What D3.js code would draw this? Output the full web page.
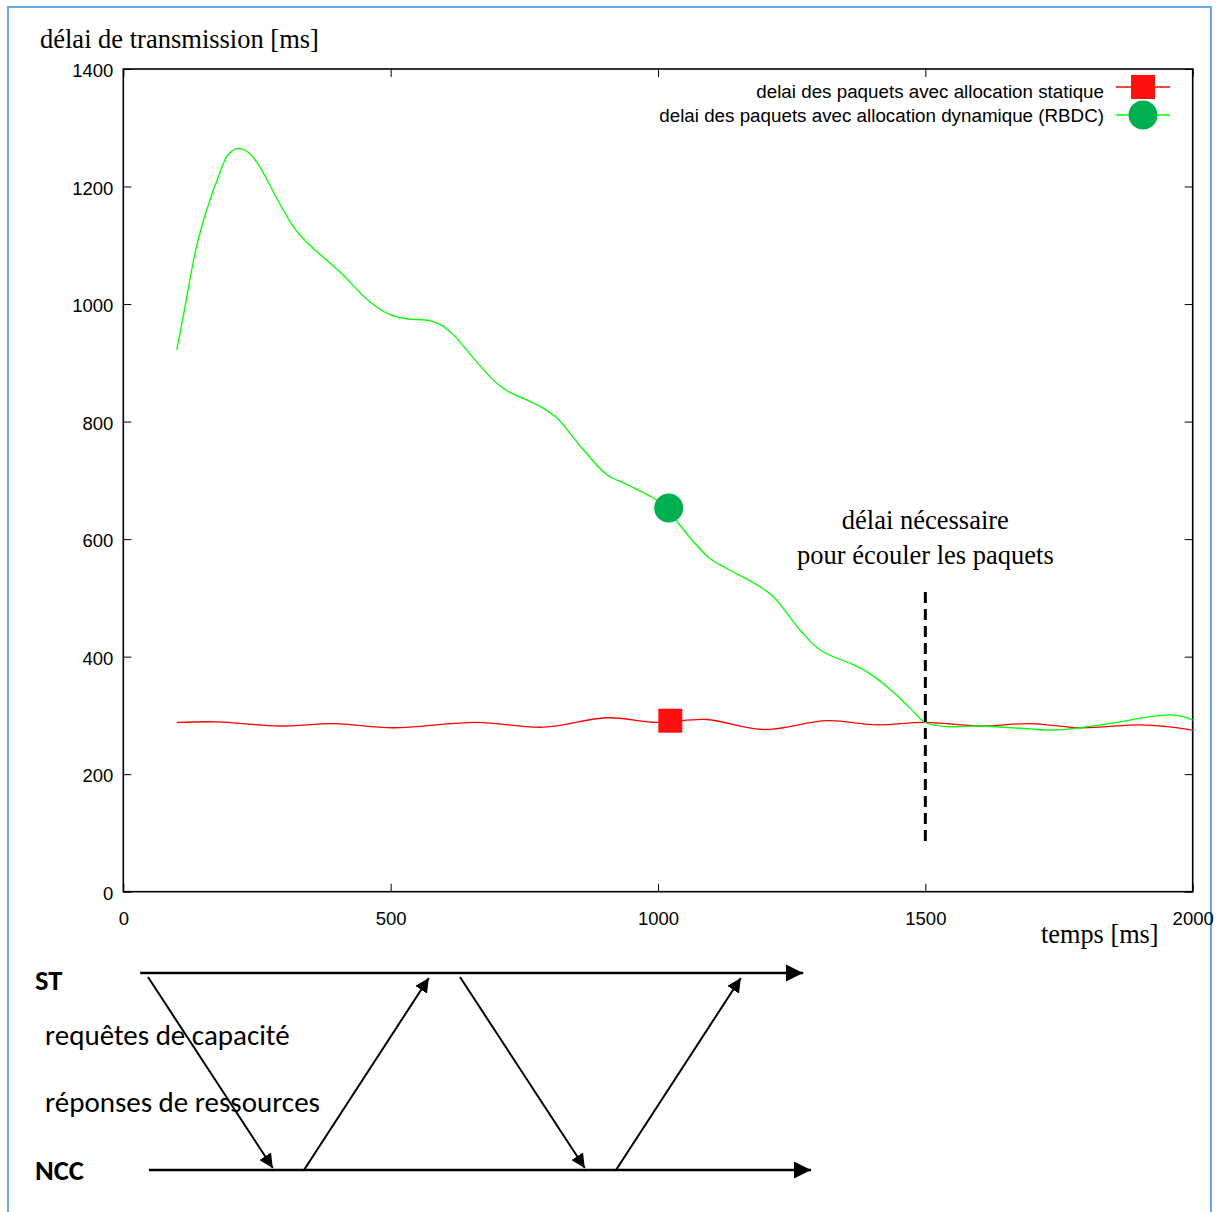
<!DOCTYPE html>
<html>
<head>
<meta charset="utf-8">
<script src="https://cdn.jsdelivr.net/npm/d3@7"></script>
<style>
body { margin: 0; background: #fff; }
svg { display: block; }
</style>
</head>
<body>
<div id="chart"></div>
<script>
var w = 1220, h = 1212;

// time [ms] and delay [ms]
var static_t = [100, 175, 293, 393, 505, 661, 786, 904, 998, 1091, 1197, 1316, 1409, 1500, 1602, 1696, 1789, 1901, 1952, 2000];
var static_v = [288, 289, 282, 286, 279, 288, 280, 296, 288, 293, 276, 291, 284, 288, 282, 286, 279, 284, 281, 275];

var dynamic_t = [100, 112, 137, 156, 178, 196, 215, 234, 253, 290, 312, 330, 355, 405, 461, 499, 530, 573, 593, 617,
    655, 695, 717, 779, 811, 855, 904, 942, 991, 1019, 1038, 1097, 1129, 1191, 1216, 1266, 1304, 1366, 1391, 1428,
    1472, 1500, 1540, 1602, 1696, 1739, 1789, 1858, 1920, 1957, 1982, 2000];
var dynamic_v = [922, 979, 1098, 1160, 1217, 1254, 1265, 1258, 1237, 1175, 1140, 1118, 1095, 1055, 1004, 982, 975, 972, 965, 948,
    908, 868, 853, 826, 806, 758, 710, 693, 670, 652, 627, 567, 550, 519, 502, 445, 411, 386, 374, 349,
    312, 288, 281, 282, 277, 275, 279, 288, 298, 301, 298, 292];

var static_marker = {t: 1023, v: 291};
var dynamic_marker = {t: 1020, v: 653};

var x_ticks = [0, 500, 1000, 1500, 2000];
var y_ticks = [0, 200, 400, 600, 800, 1000, 1200, 1400];
var legend_labels = ["delai des paquets avec allocation statique",
                     "delai des paquets avec allocation dynamique (RBDC)"];
var threshold_t = 1500;
var threshold_v = [80, 510];
var threshold_text = ["délai nécessaire", "pour écouler les paquets"];

// message sequence below the chart (time in diagram units)
var lanes = ["ST", "NCC"];
var lane_span = {ST: [-0.25, 21], NCC: [0.03, 21.25]};
var messages = [
    {from: "ST", t0: 0, to: "NCC", t1: 4},
    {from: "NCC", t0: 5, to: "ST", t1: 9},
    {from: "ST", t0: 10, to: "NCC", t1: 14},
    {from: "NCC", t0: 15, to: "ST", t1: 19}
];
var msg_labels = ["requêtes de capacité", "réponses de ressources"];

var svg = d3.select("#chart")
    .append("svg")
    .attr("width", w)
    .attr("height", h);

svg.append("defs").append("marker")
    .attr("id", "arrow")
    .attr("viewBox", "0 0 10 10")
    .attr("refX", 10).attr("refY", 5)
    .attr("markerWidth", 7).attr("markerHeight", 7)
    .attr("markerUnits", "strokeWidth")
    .attr("orient", "auto")
    .append("path")
    .attr("d", "M0,0 L10,5 L0,10 z")
    .attr("fill", "#000");

svg.append("rect")
    .attr("x", 8).attr("y", 7)
    .attr("width", 1203).attr("height", 1220)
    .attr("fill", "#fff")
    .attr("stroke", "#6ea6e6")
    .attr("stroke-width", 2);

var x = d3.scaleLinear().domain([0, 2000]).range([123.3, 1192.7]);
var y = d3.scaleLinear().domain([0, 1400]).range([891.7, 69]);

function tidy(g) {
    g.select(".domain").remove();
    g.selectAll(".tick line").attr("stroke", "#000").attr("stroke-width", 1);
    g.selectAll(".tick text")
        .attr("font-family", "'Liberation Sans', Arial, sans-serif")
        .attr("font-size", "18.5px")
        .attr("fill", "#000");
}

svg.append("g")
    .attr("transform", "translate(0," + y(0) + ")")
    .call(d3.axisBottom(x).tickValues(x_ticks).tickSize(-8).tickPadding(20).tickFormat(d3.format("d")))
    .call(tidy);
svg.append("g")
    .attr("transform", "translate(" + x(0) + ",0)")
    .call(d3.axisLeft(y).tickValues(y_ticks).tickSize(-8).tickPadding(10).tickFormat(d3.format("d")))
    .call(tidy)
    .selectAll(".tick text").attr("dy", "0.42em");
svg.append("g")
    .attr("transform", "translate(0," + y(1400) + ")")
    .call(d3.axisTop(x).tickValues(x_ticks).tickSize(-8).tickFormat(""))
    .call(tidy);
svg.append("g")
    .attr("transform", "translate(" + x(2000) + ",0)")
    .call(d3.axisRight(y).tickValues(y_ticks).tickSize(-8).tickFormat(""))
    .call(tidy);

svg.append("rect")
    .attr("x", x(0)).attr("y", y(1400))
    .attr("width", x(2000) - x(0)).attr("height", y(0) - y(1400))
    .attr("fill", "none")
    .attr("stroke", "#000")
    .attr("stroke-width", 1.6);

svg.append("text")
    .attr("x", 40).attr("y", 48)
    .attr("font-family", "'Liberation Serif', 'Times New Roman', serif")
    .attr("font-size", "26.5px")
    .text("délai de transmission [ms]");
svg.append("text")
    .attr("x", 1041).attr("y", 943)
    .attr("font-family", "'Liberation Serif', 'Times New Roman', serif")
    .attr("font-size", "26.3px")
    .text("temps [ms]");

var line = d3.line()
    .x(function(d) { return x(d.t); })
    .y(function(d) { return y(d.v); })
    .curve(d3.curveCatmullRom);

var static_pts = static_t.map(function(t, i) { return {t: t, v: static_v[i]}; });
var dynamic_pts = dynamic_t.map(function(t, i) { return {t: t, v: dynamic_v[i]}; });

svg.append("path")
    .attr("d", line(static_pts))
    .attr("fill", "none")
    .attr("stroke", "#ff0000")
    .attr("stroke-width", 1.3);
svg.append("path")
    .attr("d", line(dynamic_pts))
    .attr("fill", "none")
    .attr("stroke", "#00ff00")
    .attr("stroke-width", 1.3);

// threshold annotation
svg.append("line")
    .attr("x1", x(threshold_t)).attr("x2", x(threshold_t))
    .attr("y1", y(threshold_v[1])).attr("y2", y(threshold_v[0]))
    .attr("stroke", "#000")
    .attr("stroke-width", 3)
    .attr("stroke-dasharray", "11,6");
svg.selectAll(".annot")
    .data(threshold_text)
    .enter()
    .append("text")
    .attr("class", "annot")
    .attr("x", x(threshold_t))
    .attr("y", function(d, i) { return 529 + i * 35; })
    .attr("text-anchor", "middle")
    .attr("font-family", "'Liberation Serif', 'Times New Roman', serif")
    .attr("font-size", "26.5px")
    .text(function(d) { return d; });

// markers
svg.append("rect")
    .attr("x", x(static_marker.t) - 12).attr("y", y(static_marker.v) - 12)
    .attr("width", 24).attr("height", 24)
    .attr("fill", "#fe1010");
svg.append("circle")
    .attr("cx", x(dynamic_marker.t)).attr("cy", y(dynamic_marker.v))
    .attr("r", 14.5)
    .attr("fill", "#00b050");

// legend
var legend = svg.selectAll(".legend")
    .data(legend_labels)
    .enter()
    .append("g")
    .attr("class", "legend")
    .attr("transform", function(d, i) { return "translate(0," + (87 + i * 28) + ")"; });
legend.append("text")
    .attr("x", 1104)
    .attr("y", function(d, i) { return 4 - i * 4; })
    .attr("dy", "0.35em")
    .attr("text-anchor", "end")
    .attr("font-family", "'Liberation Sans', Arial, sans-serif")
    .attr("font-size", "18.8px")
    .text(function(d) { return d; });
legend.append("line")
    .attr("x1", 1116).attr("x2", 1170)
    .attr("stroke", function(d, i) { return i == 0 ? "#ff0000" : "#00ff00"; })
    .attr("stroke-width", 1.3);
legend.filter(function(d, i) { return i == 0; })
    .append("rect")
    .attr("x", 1131).attr("y", -12)
    .attr("width", 24).attr("height", 24)
    .attr("fill", "#fe1010");
legend.filter(function(d, i) { return i == 1; })
    .append("circle")
    .attr("cx", 1143).attr("cy", 0)
    .attr("r", 14.5)
    .attr("fill", "#00b050");

// sequence diagram
var dx = d3.scaleLinear().domain([0, 1]).range([148, 179.2]);
var dy = d3.scaleOrdinal().domain(lanes).range([973, 1170]);
var label_off = {ST: 17, NCC: 10};

svg.selectAll(".lane")
    .data(lanes)
    .enter()
    .append("line")
    .attr("class", "lane")
    .attr("x1", function(d) { return dx(lane_span[d][0]); })
    .attr("x2", function(d) { return dx(lane_span[d][1]); })
    .attr("y1", function(d) { return dy(d); })
    .attr("y2", function(d) { return dy(d); })
    .attr("stroke", "#000")
    .attr("stroke-width", 2.5)
    .attr("marker-end", "url(#arrow)");

svg.selectAll(".msg")
    .data(messages)
    .enter()
    .append("line")
    .attr("class", "msg")
    .attr("x1", function(d) { return dx(d.t0); })
    .attr("y1", function(d) { return dy(d.from) + (d.from == "ST" ? 4 : 0); })
    .attr("x2", function(d) { return dx(d.t1); })
    .attr("y2", function(d) { return dy(d.to) + (d.to == "ST" ? 5 : -2); })
    .attr("stroke", "#000")
    .attr("stroke-width", 2)
    .attr("marker-end", "url(#arrow)");

svg.selectAll(".lanelabel")
    .data(lanes)
    .enter()
    .append("text")
    .attr("class", "lanelabel")
    .attr("x", 35)
    .attr("y", function(d) { return dy(d) + label_off[d]; })
    .attr("font-family", "Carlito, Lato, 'Open Sans', sans-serif")
    .attr("font-weight", "bold")
    .attr("font-size", "28.5px")
    .text(function(d) { return d; });

svg.selectAll(".msglabel")
    .data(msg_labels)
    .enter()
    .append("text")
    .attr("class", "msglabel")
    .attr("x", 45)
    .attr("y", function(d, i) { return 1045 + i * 67; })
    .attr("font-family", "Carlito, Lato, 'Open Sans', sans-serif")
    .attr("font-size", "29px")
    .text(function(d) { return d; });
</script>
</body>
</html>
